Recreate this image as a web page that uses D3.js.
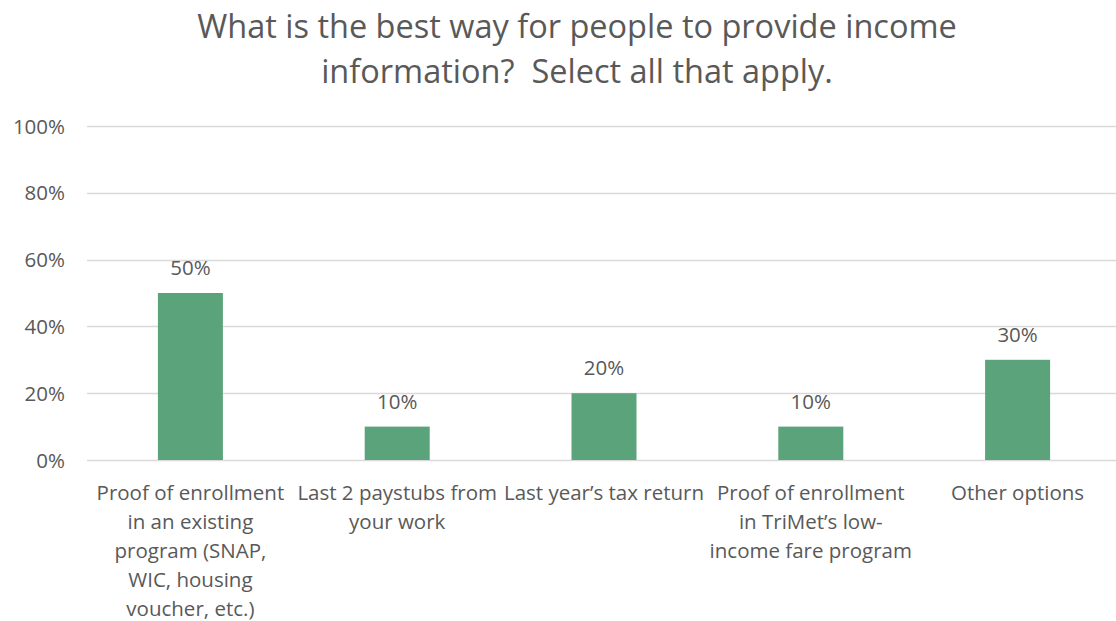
<!DOCTYPE html>
<html>
<head>
<meta charset="utf-8">
<script src="https://cdn.jsdelivr.net/npm/d3@7"></script>
<style>
  html, body { margin: 0; padding: 0; background: #ffffff; }
  svg { display: block; }
  text { font-family: "Open Sans", Lato, sans-serif; fill: #595959; white-space: pre; }
</style>
</head>
<body>
<svg id="chart" width="1116" height="621"></svg>
<script>
// Survey responses: share of respondents choosing each option
const categories = [
  ["Proof of enrollment", "in an existing", "program (SNAP,", "WIC, housing", "voucher, etc.)"],
  ["Last 2 paystubs from", "your work"],
  ["Last year\u2019s tax return"],
  ["Proof of enrollment", "in TriMet\u2019s low-", "income fare program"],
  ["Other options"]
];
const values = [0.50, 0.10, 0.20, 0.10, 0.30];
const yTicks = [0, 0.2, 0.4, 0.6, 0.8, 1.0];
const titleLines = ["What is the best way for people to provide income", "information?  Select all that apply."];

const W = 1116, H = 621;
const margin = { left: 87, right: -5, top: 126, bottom: 161 };
const svg = d3.select("#chart");

const keys = categories.map((c, i) => i);
const x = d3.scaleBand().domain(keys).range([margin.left, W - margin.right]).paddingInner(0).paddingOuter(0);
const y = d3.scaleLinear().domain([0, 1]).range([H - margin.bottom, margin.top]);
const barW = 65;
const fmt = d3.format(".0%");

// Title
svg.append("g").selectAll("text").data(titleLines).join("text")
  .attr("x", 577).attr("y", (d, i) => 38 + i * 45)
  .attr("text-anchor", "middle")
  .style("font-size", "32.5px")
  .text(d => d);

// Horizontal gridlines
svg.append("g").selectAll("line").data(yTicks).join("line")
  .attr("x1", margin.left).attr("x2", W)
  .attr("y1", d => Math.round(y(d)) + 0.5).attr("y2", d => Math.round(y(d)) + 0.5)
  .attr("stroke", "#d9d9d9").attr("stroke-width", 1.5);

// Y axis labels
const yAxis = d3.axisLeft(y).tickValues(yTicks).tickFormat(fmt).tickSize(0).tickPadding(0);
const gy = svg.append("g").attr("transform", `translate(65,0)`).call(yAxis);
gy.select(".domain").remove();
gy.selectAll("text").style("font-size", "20.5px").attr("fill", "#595959").attr("dy", "0.35em");

// Bars
svg.append("g").selectAll("rect").data(values).join("rect")
  .attr("x", (d, i) => x(i) + x.bandwidth() / 2 - barW / 2)
  .attr("width", barW)
  .attr("y", d => y(d))
  .attr("height", d => y(0) - y(d))
  .attr("fill", "#5ba37a");

// Value labels
svg.append("g").selectAll("text").data(values).join("text")
  .attr("x", (d, i) => x(i) + x.bandwidth() / 2)
  .attr("y", d => y(d) - 18)
  .attr("text-anchor", "middle")
  .style("font-size", "20.5px")
  .text(d => fmt(d));

// Category labels (multi-line)
const cat = svg.append("g").selectAll("text").data(categories).join("text")
  .attr("text-anchor", "middle")
  .style("font-size", "20.5px");
cat.each(function (lines, i) {
  d3.select(this).selectAll("tspan").data(lines).join("tspan")
    .attr("x", x(i) + x.bandwidth() / 2)
    .attr("y", (d, j) => 500 + j * 29)
    .text(d => d);
});
</script>
</body>
</html>
